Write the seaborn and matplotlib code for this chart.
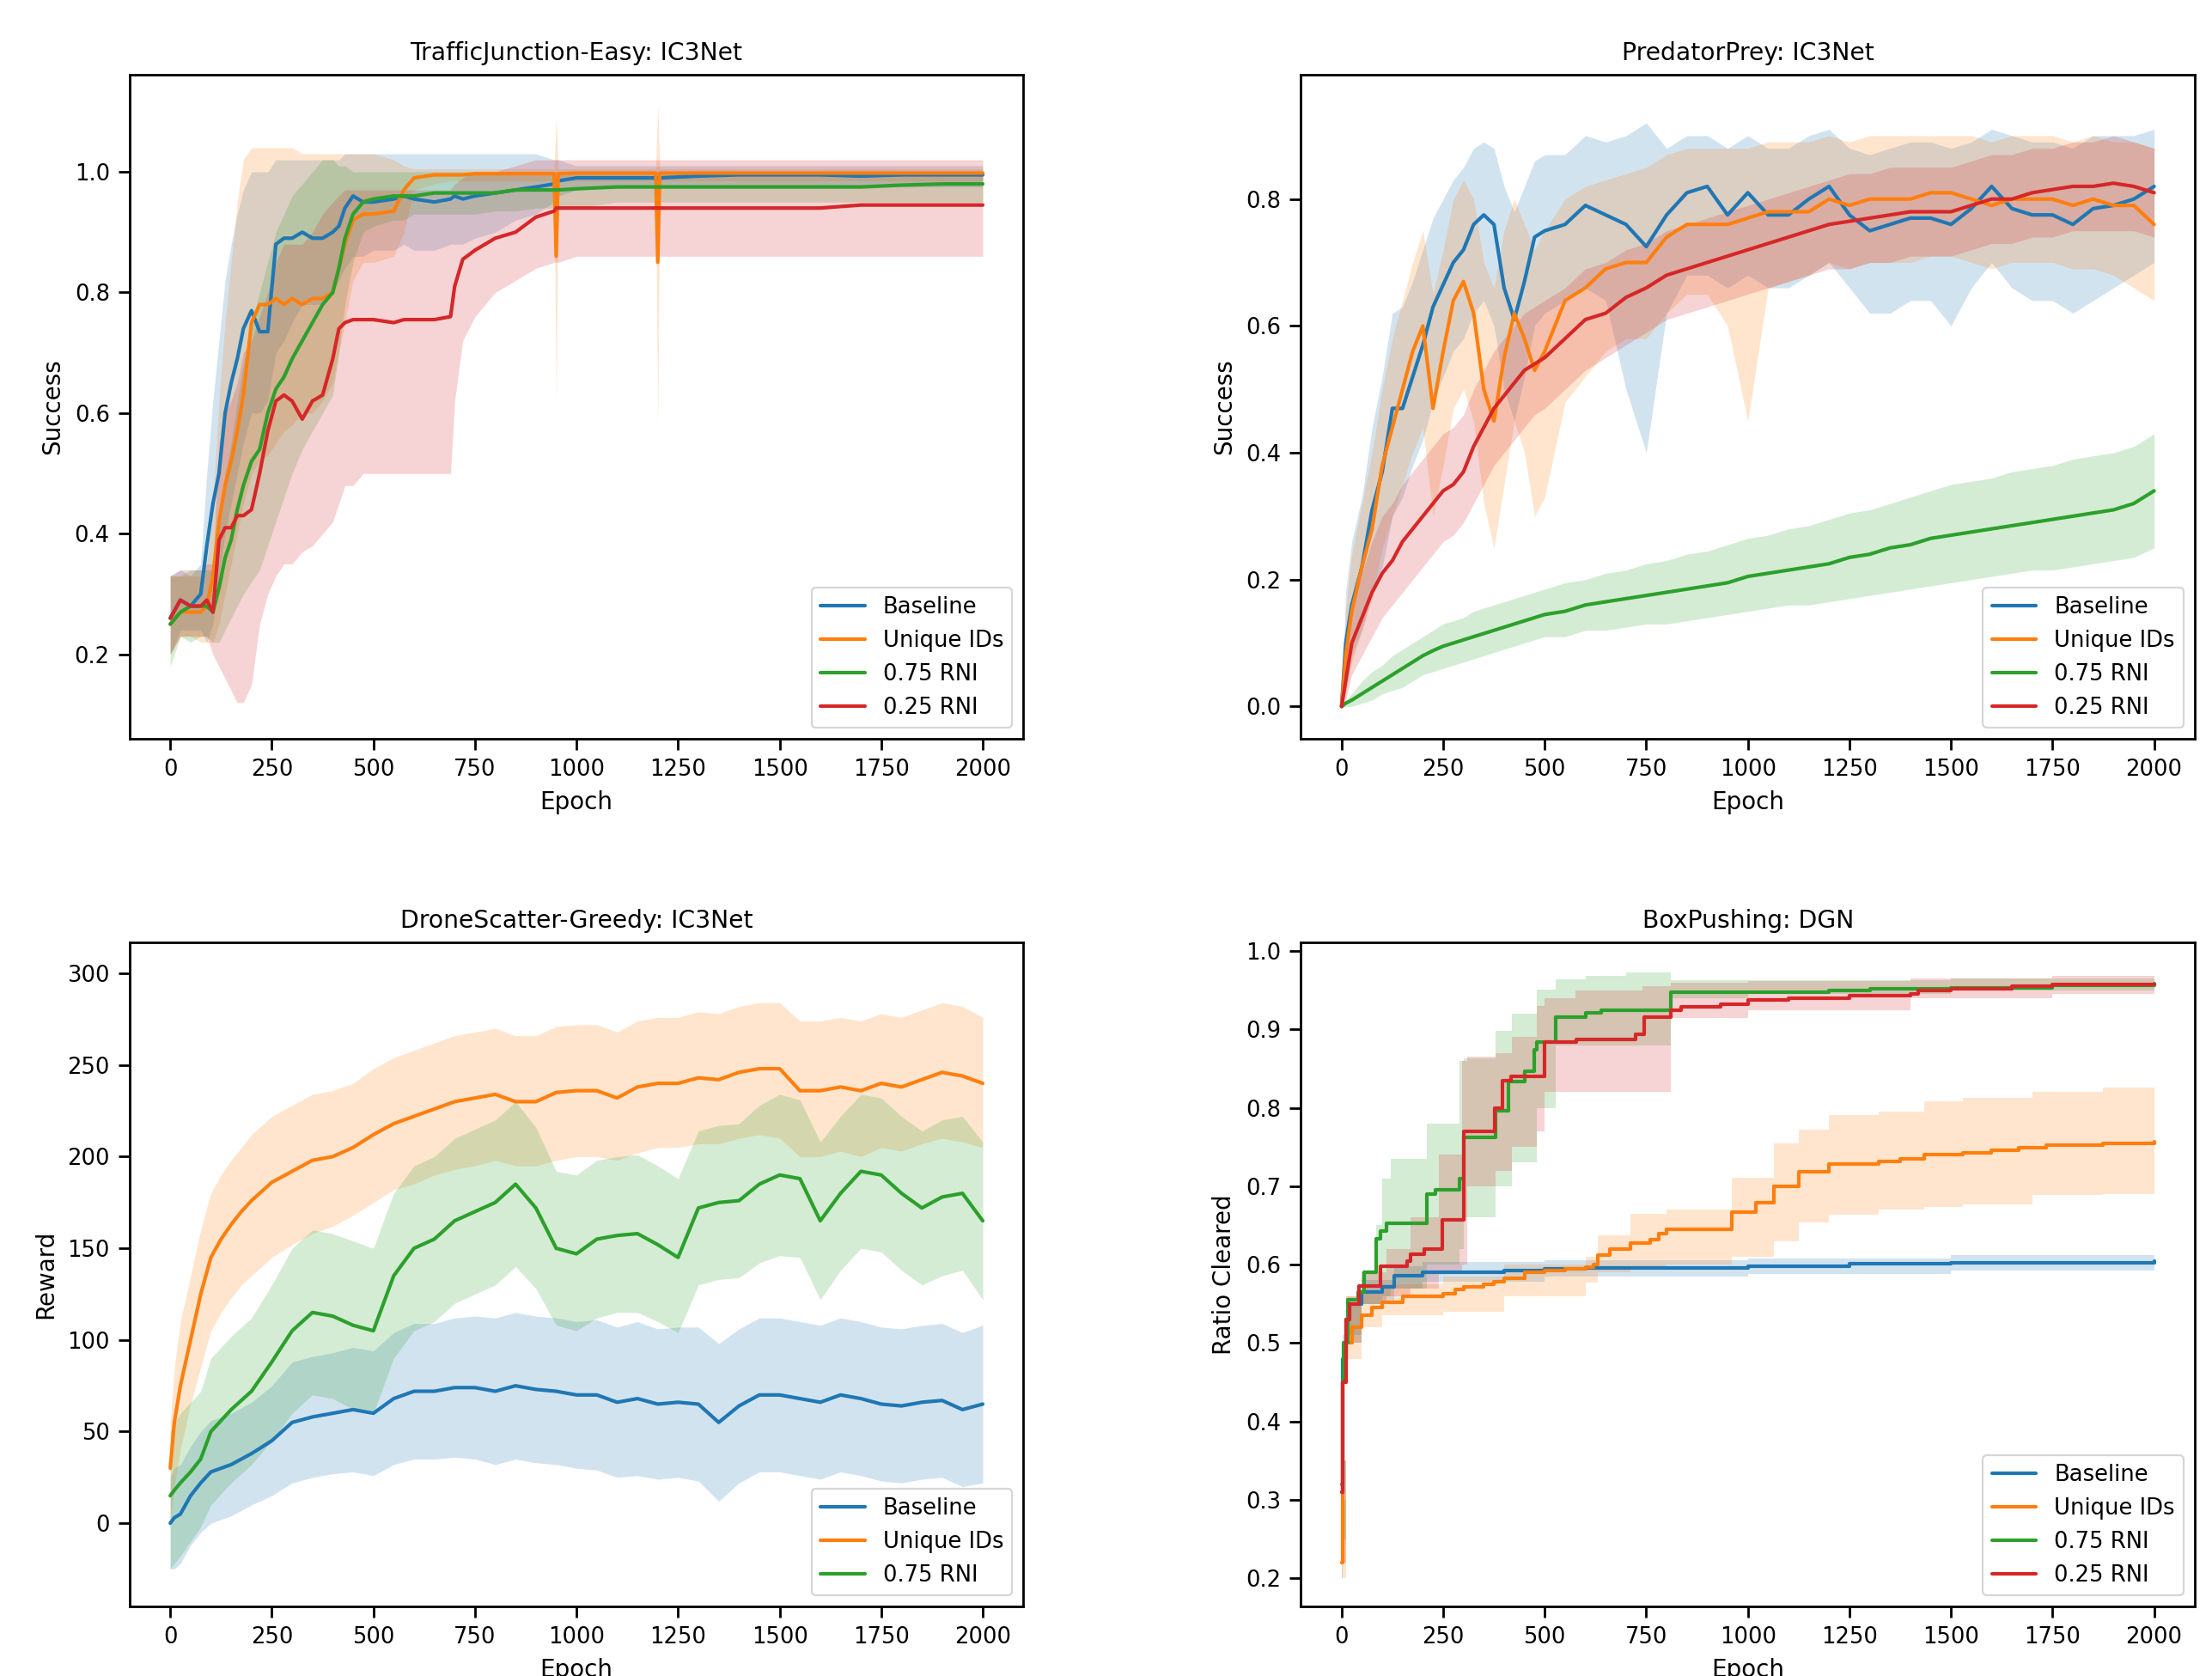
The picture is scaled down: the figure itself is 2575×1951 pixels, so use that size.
import numpy as np
import pandas as pd
import matplotlib
matplotlib.use("Agg")
import matplotlib.pyplot as plt
import seaborn as sns

# ---------------- data ----------------
names4 = ["Baseline", "Unique IDs", "0.75 RNI", "0.25 RNI"]
xticks = [0, 250, 500, 750, 1000, 1250, 1500, 1750, 2000]

# TrafficJunction-Easy
x_tl = [0, 25, 50, 75, 90, 105, 120, 135, 150, 165,
        180, 200, 220, 240, 260, 280, 300, 325, 350, 375,
        400, 415, 430, 450, 475, 500, 550, 575, 600, 650,
        690, 700, 720, 750, 800, 850, 900, 945, 950, 955,
        1000, 1100, 1195, 1200, 1205, 1300, 1400, 1500, 1600, 1700,
        1800, 1900, 2000]
tl_base = [0.26, 0.29, 0.28, 0.30, 0.38, 0.45, 0.50, 0.60, 0.65, 0.69,
           0.74, 0.77, 0.735, 0.735, 0.88, 0.89, 0.89, 0.90, 0.89, 0.89,
           0.90, 0.91, 0.94, 0.96, 0.95, 0.95, 0.955, 0.96, 0.955, 0.95,
           0.955, 0.96, 0.955, 0.96, 0.965, 0.97, 0.975, 0.98, 0.985, 0.985,
           0.99, 0.99, 0.99, 0.99, 0.99, 0.993, 0.995, 0.995, 0.995, 0.993,
           0.995, 0.995, 0.995]
tl_uid = [0.25, 0.27, 0.27, 0.27, 0.28, 0.33, 0.42, 0.48, 0.52, 0.57,
          0.63, 0.75, 0.78, 0.78, 0.79, 0.78, 0.79, 0.78, 0.79, 0.79,
          0.80, 0.84, 0.88, 0.92, 0.93, 0.93, 0.935, 0.97, 0.99, 0.995,
          0.995, 0.995, 0.995, 0.997, 0.997, 0.997, 0.997, 0.997, 0.86, 0.997,
          0.998, 0.998, 0.998, 0.85, 0.998, 0.998, 0.998, 0.998, 0.998, 0.998,
          0.998, 0.998, 0.998]
tl_rni75 = [0.25, 0.27, 0.28, 0.28, 0.28, 0.27, 0.31, 0.36, 0.39, 0.44,
            0.48, 0.52, 0.54, 0.60, 0.64, 0.66, 0.69, 0.72, 0.75, 0.78,
            0.80, 0.84, 0.89, 0.93, 0.95, 0.955, 0.96, 0.96, 0.96, 0.965,
            0.965, 0.965, 0.965, 0.965, 0.965, 0.97, 0.97, 0.97, 0.97, 0.97,
            0.972, 0.975, 0.975, 0.975, 0.975, 0.975, 0.975, 0.975, 0.975, 0.975,
            0.978, 0.98, 0.98]
tl_rni25 = [0.26, 0.29, 0.28, 0.28, 0.29, 0.27, 0.39, 0.41, 0.41, 0.43,
            0.43, 0.44, 0.50, 0.57, 0.62, 0.63, 0.62, 0.59, 0.62, 0.63,
            0.69, 0.74, 0.75, 0.755, 0.755, 0.755, 0.75, 0.755, 0.755, 0.755,
            0.76, 0.81, 0.855, 0.87, 0.89, 0.90, 0.925, 0.935, 0.94, 0.94,
            0.94, 0.94, 0.94, 0.94, 0.94, 0.94, 0.94, 0.94, 0.94, 0.945,
            0.945, 0.945, 0.945]
tl_base_lo = [0.20, 0.24, 0.24, 0.24, 0.22, 0.25, 0.33, 0.40, 0.45, 0.50,
              0.55, 0.60, 0.60, 0.62, 0.70, 0.72, 0.75, 0.78, 0.78, 0.78,
              0.80, 0.82, 0.84, 0.86, 0.86, 0.87, 0.87, 0.88, 0.87, 0.87,
              0.88, 0.88, 0.88, 0.89, 0.90, 0.92, 0.93, 0.95, 0.96, 0.96,
              0.97, 0.975, 0.975, 0.975, 0.975, 0.975, 0.975, 0.975, 0.975, 0.975,
              0.975, 0.975, 0.975]
tl_base_hi = [0.33, 0.34, 0.33, 0.35, 0.50, 0.62, 0.72, 0.82, 0.88, 0.93,
              0.97, 1.00, 1.00, 1.00, 1.02, 1.02, 1.02, 1.02, 1.02, 1.02,
              1.02, 1.02, 1.03, 1.03, 1.03, 1.03, 1.03, 1.03, 1.03, 1.03,
              1.03, 1.03, 1.03, 1.03, 1.03, 1.03, 1.03, 1.02, 1.02, 1.02,
              1.01, 1.01, 1.01, 1.01, 1.01, 1.01, 1.01, 1.01, 1.01, 1.01,
              1.01, 1.01, 1.01]
tl_uid_lo = [0.20, 0.23, 0.23, 0.22, 0.22, 0.22, 0.25, 0.30, 0.35, 0.40,
             0.45, 0.50, 0.52, 0.53, 0.55, 0.57, 0.58, 0.60, 0.60, 0.62,
             0.65, 0.70, 0.75, 0.82, 0.85, 0.85, 0.86, 0.90, 0.97, 0.98,
             0.985, 0.985, 0.985, 0.985, 0.985, 0.985, 0.985, 0.985, 0.62, 0.985,
             0.985, 0.985, 0.985, 0.58, 0.985, 0.985, 0.985, 0.985, 0.985, 0.985,
             0.985, 0.985, 0.985]
tl_uid_hi = [0.33, 0.33, 0.33, 0.33, 0.35, 0.45, 0.62, 0.75, 0.85, 0.95,
             1.02, 1.04, 1.04, 1.04, 1.04, 1.04, 1.04, 1.03, 1.03, 1.03,
             1.03, 1.03, 1.03, 1.03, 1.03, 1.03, 1.02, 1.01, 1.005, 1.005,
             1.005, 1.005, 1.005, 1.005, 1.005, 1.005, 1.005, 1.005, 1.09, 1.005,
             1.005, 1.005, 1.005, 1.11, 1.005, 1.005, 1.005, 1.005, 1.005, 1.005,
             1.005, 1.005, 1.005]
tl_rni75_lo = [0.18, 0.23, 0.22, 0.23, 0.23, 0.22, 0.22, 0.24, 0.26, 0.28,
               0.30, 0.32, 0.34, 0.38, 0.42, 0.46, 0.50, 0.54, 0.57, 0.60,
               0.63, 0.70, 0.78, 0.85, 0.90, 0.91, 0.92, 0.92, 0.93, 0.93,
               0.93, 0.93, 0.93, 0.93, 0.935, 0.935, 0.94, 0.94, 0.94, 0.94,
               0.94, 0.95, 0.95, 0.95, 0.95, 0.95, 0.95, 0.95, 0.95, 0.95,
               0.95, 0.95, 0.95]
tl_rni75_hi = [0.33, 0.33, 0.34, 0.34, 0.34, 0.34, 0.42, 0.50, 0.55, 0.62,
               0.68, 0.75, 0.80, 0.85, 0.90, 0.93, 0.96, 0.98, 1.00, 1.02,
               1.02, 1.01, 1.01, 1.00, 1.00, 1.00, 1.00, 1.00, 1.00, 1.00,
               1.00, 1.00, 1.00, 1.00, 1.00, 1.00, 1.00, 1.00, 1.00, 1.00,
               1.00, 1.00, 1.00, 1.00, 1.00, 1.00, 1.00, 1.00, 1.00, 1.00,
               1.00, 1.00, 1.00]
tl_rni25_lo = [0.20, 0.23, 0.23, 0.23, 0.23, 0.20, 0.18, 0.16, 0.14, 0.12,
               0.12, 0.15, 0.25, 0.30, 0.33, 0.35, 0.35, 0.37, 0.38, 0.40,
               0.42, 0.45, 0.48, 0.48, 0.50, 0.50, 0.50, 0.50, 0.50, 0.50,
               0.50, 0.62, 0.72, 0.76, 0.80, 0.82, 0.84, 0.85, 0.85, 0.85,
               0.86, 0.86, 0.86, 0.86, 0.86, 0.86, 0.86, 0.86, 0.86, 0.86,
               0.86, 0.86, 0.86]
tl_rni25_hi = [0.33, 0.34, 0.34, 0.34, 0.35, 0.35, 0.55, 0.60, 0.62, 0.65,
               0.70, 0.72, 0.76, 0.80, 0.85, 0.88, 0.88, 0.88, 0.90, 0.93,
               0.95, 0.96, 0.97, 0.97, 0.97, 0.97, 0.97, 0.97, 0.97, 0.97,
               0.97, 0.98, 0.99, 1.00, 1.00, 1.01, 1.02, 1.02, 1.02, 1.02,
               1.02, 1.02, 1.02, 1.02, 1.02, 1.02, 1.02, 1.02, 1.02, 1.02,
               1.02, 1.02, 1.02]

# PredatorPrey
x_tr = [0, 10, 25, 50, 75, 100, 125, 150, 175, 200,
        225, 250, 275, 300, 325, 350, 375, 400, 425, 450,
        475, 500, 550, 600, 650, 700, 750, 800, 850, 900,
        950, 1000, 1050, 1100, 1150, 1200, 1250, 1300, 1350, 1400,
        1450, 1500, 1550, 1600, 1650, 1700, 1750, 1800, 1850, 1900,
        1950, 2000]
tr_base = [0.0, 0.10, 0.16, 0.22, 0.31, 0.37, 0.47, 0.47, 0.52, 0.57,
           0.63, 0.665, 0.70, 0.72, 0.76, 0.775, 0.76, 0.66, 0.61, 0.67,
           0.74, 0.75, 0.76, 0.79, 0.775, 0.76, 0.725, 0.775, 0.81, 0.82,
           0.775, 0.81, 0.775, 0.775, 0.80, 0.82, 0.775, 0.75, 0.76, 0.77,
           0.77, 0.76, 0.785, 0.82, 0.785, 0.775, 0.775, 0.76, 0.785, 0.79,
           0.80, 0.82]
tr_uid = [0.0, 0.08, 0.15, 0.22, 0.28, 0.38, 0.44, 0.50, 0.56, 0.60,
          0.47, 0.56, 0.64, 0.67, 0.62, 0.50, 0.45, 0.55, 0.62, 0.58,
          0.53, 0.56, 0.64, 0.66, 0.69, 0.70, 0.70, 0.74, 0.76, 0.76,
          0.76, 0.77, 0.78, 0.78, 0.78, 0.80, 0.79, 0.80, 0.80, 0.80,
          0.81, 0.81, 0.80, 0.79, 0.80, 0.80, 0.80, 0.79, 0.80, 0.79,
          0.79, 0.76]
tr_rni75 = [0.0, 0.005, 0.01, 0.02, 0.03, 0.04, 0.05, 0.06, 0.07, 0.08,
            0.088, 0.095, 0.10, 0.105, 0.11, 0.115, 0.12, 0.125, 0.13, 0.135,
            0.14, 0.145, 0.15, 0.16, 0.165, 0.17, 0.175, 0.18, 0.185, 0.19,
            0.195, 0.205, 0.21, 0.215, 0.22, 0.225, 0.235, 0.24, 0.25, 0.255,
            0.265, 0.27, 0.275, 0.28, 0.285, 0.29, 0.295, 0.30, 0.305, 0.31,
            0.32, 0.34]
tr_rni25 = [0.0, 0.04, 0.10, 0.14, 0.18, 0.21, 0.23, 0.26, 0.28, 0.30,
            0.32, 0.34, 0.35, 0.37, 0.41, 0.44, 0.47, 0.49, 0.51, 0.53,
            0.54, 0.55, 0.58, 0.61, 0.62, 0.645, 0.66, 0.68, 0.69, 0.70,
            0.71, 0.72, 0.73, 0.74, 0.75, 0.76, 0.765, 0.77, 0.775, 0.78,
            0.78, 0.78, 0.79, 0.80, 0.80, 0.81, 0.815, 0.82, 0.82, 0.825,
            0.82, 0.81]
tr_base_lo = [0.0, 0.03, 0.08, 0.12, 0.18, 0.22, 0.30, 0.33, 0.38, 0.42,
              0.48, 0.52, 0.56, 0.58, 0.62, 0.64, 0.60, 0.50, 0.45, 0.52,
              0.60, 0.62, 0.64, 0.66, 0.64, 0.50, 0.40, 0.62, 0.68, 0.68,
              0.66, 0.68, 0.66, 0.66, 0.68, 0.70, 0.66, 0.62, 0.62, 0.64,
              0.64, 0.60, 0.66, 0.70, 0.66, 0.64, 0.64, 0.62, 0.64, 0.66,
              0.68, 0.70]
tr_base_hi = [0.0, 0.18, 0.26, 0.33, 0.44, 0.52, 0.62, 0.63, 0.67, 0.72,
              0.77, 0.80, 0.83, 0.85, 0.88, 0.89, 0.88, 0.82, 0.78, 0.82,
              0.86, 0.87, 0.87, 0.90, 0.89, 0.90, 0.92, 0.88, 0.90, 0.90,
              0.88, 0.90, 0.88, 0.88, 0.90, 0.91, 0.88, 0.87, 0.88, 0.89,
              0.89, 0.88, 0.89, 0.91, 0.90, 0.89, 0.89, 0.88, 0.90, 0.90,
              0.90, 0.91]
tr_uid_lo = [0.0, 0.02, 0.07, 0.12, 0.17, 0.25, 0.30, 0.35, 0.40, 0.44,
             0.30, 0.38, 0.47, 0.50, 0.45, 0.32, 0.25, 0.35, 0.45, 0.40,
             0.30, 0.33, 0.48, 0.52, 0.56, 0.58, 0.58, 0.62, 0.65, 0.65,
             0.60, 0.45, 0.66, 0.67, 0.68, 0.70, 0.69, 0.70, 0.70, 0.70,
             0.71, 0.71, 0.70, 0.69, 0.70, 0.70, 0.70, 0.69, 0.69, 0.68,
             0.66, 0.64]
tr_uid_hi = [0.0, 0.15, 0.24, 0.32, 0.40, 0.50, 0.58, 0.64, 0.70, 0.75,
             0.65, 0.72, 0.80, 0.83, 0.80, 0.70, 0.66, 0.75, 0.80, 0.76,
             0.72, 0.75, 0.80, 0.82, 0.83, 0.84, 0.85, 0.87, 0.88, 0.88,
             0.88, 0.88, 0.89, 0.89, 0.89, 0.90, 0.89, 0.90, 0.90, 0.90,
             0.90, 0.90, 0.90, 0.89, 0.90, 0.90, 0.90, 0.89, 0.90, 0.89,
             0.89, 0.88]
tr_rni75_lo = [0.0, 0.0, 0.0, 0.005, 0.01, 0.02, 0.025, 0.03, 0.04, 0.05,
               0.055, 0.06, 0.065, 0.07, 0.075, 0.08, 0.085, 0.09, 0.095, 0.10,
               0.105, 0.11, 0.11, 0.12, 0.12, 0.125, 0.13, 0.13, 0.135, 0.14,
               0.145, 0.15, 0.155, 0.16, 0.16, 0.165, 0.17, 0.175, 0.18, 0.185,
               0.19, 0.195, 0.20, 0.205, 0.21, 0.215, 0.215, 0.22, 0.225, 0.23,
               0.235, 0.25]
tr_rni75_hi = [0.0, 0.01, 0.02, 0.04, 0.055, 0.065, 0.08, 0.09, 0.10, 0.11,
               0.12, 0.13, 0.135, 0.14, 0.15, 0.155, 0.16, 0.165, 0.17, 0.175,
               0.18, 0.185, 0.195, 0.20, 0.21, 0.215, 0.225, 0.23, 0.24, 0.245,
               0.255, 0.265, 0.27, 0.28, 0.285, 0.295, 0.305, 0.31, 0.32, 0.33,
               0.34, 0.35, 0.355, 0.36, 0.37, 0.375, 0.38, 0.39, 0.395, 0.40,
               0.41, 0.43]
tr_rni25_lo = [0.0, 0.01, 0.05, 0.08, 0.11, 0.14, 0.16, 0.18, 0.20, 0.22,
               0.24, 0.26, 0.27, 0.29, 0.32, 0.35, 0.38, 0.40, 0.42, 0.44,
               0.46, 0.47, 0.50, 0.53, 0.55, 0.57, 0.59, 0.61, 0.62, 0.63,
               0.64, 0.65, 0.66, 0.67, 0.68, 0.69, 0.69, 0.70, 0.70, 0.71,
               0.71, 0.71, 0.72, 0.73, 0.73, 0.74, 0.74, 0.75, 0.75, 0.75,
               0.75, 0.74]
tr_rni25_hi = [0.0, 0.08, 0.16, 0.21, 0.26, 0.30, 0.32, 0.35, 0.37, 0.39,
               0.41, 0.43, 0.44, 0.46, 0.50, 0.53, 0.56, 0.58, 0.60, 0.62,
               0.63, 0.64, 0.66, 0.69, 0.70, 0.72, 0.73, 0.75, 0.76, 0.77,
               0.78, 0.79, 0.80, 0.81, 0.82, 0.83, 0.84, 0.84, 0.85, 0.85,
               0.85, 0.85, 0.86, 0.87, 0.87, 0.88, 0.88, 0.89, 0.89, 0.90,
               0.89, 0.88]

# DroneScatter-Greedy
x_bl = [0, 10, 25, 50, 75, 100, 125, 150, 175, 200,
        250, 300, 350, 400, 450, 500, 550, 600, 650, 700,
        750, 800, 850, 900, 950, 1000, 1050, 1100, 1150, 1200,
        1250, 1300, 1350, 1400, 1450, 1500, 1550, 1600, 1650, 1700,
        1750, 1800, 1850, 1900, 1950, 2000]
bl_base = [0, 3, 5, 15, 22, 28, 30, 32, 35, 38,
           45, 55, 58, 60, 62, 60, 68, 72, 72, 74,
           74, 72, 75, 73, 72, 70, 70, 66, 68, 65,
           66, 65, 55, 64, 70, 70, 68, 66, 70, 68,
           65, 64, 66, 67, 62, 65]
bl_uid = [30, 55, 75, 100, 125, 145, 155, 163, 170, 176,
          186, 192, 198, 200, 205, 212, 218, 222, 226, 230,
          232, 234, 230, 230, 235, 236, 236, 232, 238, 240,
          240, 243, 242, 246, 248, 248, 236, 236, 238, 236,
          240, 238, 242, 246, 244, 240]
bl_rni75 = [15, 18, 22, 28, 35, 50, 56, 62, 67, 72,
            88, 105, 115, 113, 108, 105, 135, 150, 155, 165,
            170, 175, 185, 172, 150, 147, 155, 157, 158, 152,
            145, 172, 175, 176, 185, 190, 188, 165, 180, 192,
            190, 180, 172, 178, 180, 165]
bl_base_lo = [-25, -25, -22, -12, -5, 0, 2, 4, 7, 10,
              15, 22, 25, 27, 28, 26, 32, 35, 35, 36,
              35, 32, 35, 33, 32, 30, 29, 25, 26, 24,
              25, 23, 12, 22, 28, 28, 26, 24, 28, 26,
              23, 22, 24, 25, 20, 22]
bl_base_hi = [25, 30, 32, 42, 50, 56, 58, 60, 63, 66,
              75, 88, 91, 93, 96, 94, 104, 109, 109, 112,
              113, 112, 115, 113, 112, 110, 111, 107, 110, 106,
              107, 107, 98, 106, 112, 112, 110, 108, 112, 110,
              107, 106, 108, 109, 104, 108]
bl_uid_lo = [0, 20, 40, 65, 85, 105, 115, 123, 130, 135,
             145, 152, 158, 162, 168, 175, 182, 185, 190, 193,
             195, 198, 195, 195, 198, 200, 200, 198, 202, 205,
             205, 207, 207, 210, 212, 210, 200, 200, 203, 200,
             205, 203, 207, 210, 208, 205]
bl_uid_hi = [55, 85, 110, 135, 160, 180, 190, 198, 205, 212,
             222, 228, 234, 236, 240, 248, 254, 258, 262, 266,
             268, 270, 266, 266, 271, 272, 272, 268, 274, 276,
             276, 279, 278, 282, 284, 284, 274, 274, 276, 274,
             278, 276, 280, 284, 282, 276]
bl_rni75_lo = [-25, -22, -18, -10, -2, 10, 16, 22, 27, 32,
               45, 60, 70, 68, 62, 60, 90, 105, 110, 120,
               125, 130, 140, 128, 108, 105, 112, 115, 115, 110,
               104, 130, 133, 134, 142, 146, 145, 122, 138, 150,
               148, 138, 130, 135, 138, 122]
bl_rni75_hi = [50, 55, 60, 66, 72, 90, 96, 102, 107, 112,
               130, 150, 160, 158, 154, 150, 180, 195, 200, 210,
               215, 220, 230, 216, 192, 190, 198, 200, 201, 195,
               188, 214, 217, 218, 228, 234, 231, 208, 222, 234,
               232, 222, 214, 220, 222, 208]

# BoxPushing (step curves)
br_base_x = [0, 3, 10, 20, 50, 100, 130, 200, 400, 500, 600, 1000, 1250, 1500, 1750, 2000]
br_base = [0.31, 0.48, 0.53, 0.55, 0.565, 0.572, 0.586, 0.59, 0.592, 0.595, 0.596, 0.598, 0.601, 0.602, 0.602, 0.604]
br_uid_x = [0, 3, 10, 25, 50, 75, 100, 150, 250, 280,
            300, 350, 375, 400, 450, 500, 550, 600, 620, 630,
            660, 710, 760, 780, 800, 960, 1020, 1065, 1125, 1200,
            1323, 1375, 1435, 1530, 1598, 1667, 1735, 1873, 2000]
br_uid = [0.22, 0.45, 0.50, 0.52, 0.535, 0.545, 0.552, 0.56, 0.563, 0.568,
          0.572, 0.575, 0.578, 0.583, 0.59, 0.593, 0.595, 0.597, 0.60, 0.612,
          0.62, 0.628, 0.632, 0.64, 0.645, 0.667, 0.679, 0.70, 0.719, 0.728,
          0.732, 0.735, 0.74, 0.743, 0.746, 0.749, 0.752, 0.755, 0.757]
br_rni75_x = [0, 2, 5, 15, 40, 55, 85, 95, 110, 210,
              230, 290, 300, 380, 410, 450, 475, 480, 528, 600,
              640, 811, 1000, 1200, 1300, 1500, 1750, 2000]
br_rni75 = [0.32, 0.45, 0.50, 0.555, 0.565, 0.59, 0.633, 0.643, 0.653, 0.69,
            0.696, 0.71, 0.762, 0.796, 0.833, 0.847, 0.874, 0.884, 0.916, 0.921,
            0.925, 0.947, 0.948, 0.95, 0.952, 0.953, 0.956, 0.958]
br_rni25_x = [0, 3, 10, 20, 42, 95, 162, 169, 204, 247,
              300, 377, 395, 416, 500, 578, 723, 744, 811, 836,
              934, 1000, 1100, 1250, 1400, 1420, 1500, 1650, 1750, 2000]
br_rni25 = [0.31, 0.45, 0.53, 0.55, 0.573, 0.598, 0.605, 0.613, 0.62, 0.657,
            0.77, 0.80, 0.835, 0.84, 0.884, 0.887, 0.894, 0.916, 0.925, 0.929,
            0.932, 0.938, 0.94, 0.943, 0.945, 0.95, 0.952, 0.955, 0.957, 0.957]
br_base_band_x = [0, 3, 10, 50, 130, 200, 500, 1000, 1500, 2000]
br_base_lo = [0.20, 0.45, 0.51, 0.55, 0.57, 0.578, 0.585, 0.588, 0.592, 0.595]
br_base_hi = [0.32, 0.51, 0.55, 0.58, 0.598, 0.603, 0.606, 0.608, 0.612, 0.614]
br_uid_band_x = [0, 10, 50, 100, 250, 400, 600, 630, 710, 800,
                 960, 1065, 1125, 1200, 1323, 1435, 1530, 1700, 1873, 2000]
br_uid_lo = [0.20, 0.48, 0.52, 0.535, 0.54, 0.56, 0.577, 0.59, 0.595, 0.60,
             0.61, 0.63, 0.654, 0.664, 0.67, 0.674, 0.677, 0.689, 0.69, 0.69]
br_uid_hi = [0.30, 0.56, 0.565, 0.575, 0.585, 0.60, 0.61, 0.637, 0.665, 0.67,
             0.711, 0.755, 0.772, 0.791, 0.795, 0.808, 0.813, 0.82, 0.826, 0.826]
br_rni75_band_x = [0, 10, 50, 85, 100, 120, 210, 290, 300, 380,
                   420, 480, 528, 600, 700, 811, 1000, 1500, 2000]
br_rni75_lo = [0.25, 0.50, 0.55, 0.55, 0.56, 0.57, 0.60, 0.62, 0.66, 0.70,
               0.73, 0.80, 0.88, 0.88, 0.88, 0.94, 0.945, 0.95, 0.953]
br_rni75_hi = [0.35, 0.55, 0.59, 0.65, 0.71, 0.735, 0.78, 0.86, 0.863, 0.898,
               0.92, 0.951, 0.964, 0.968, 0.973, 0.963, 0.963, 0.965, 0.965]
br_rni25_band_x = [0, 10, 50, 110, 170, 240, 296, 310, 380, 420,
                   480, 500, 575, 740, 811, 1000, 1400, 1750, 2000]
br_rni25_lo = [0.22, 0.50, 0.55, 0.56, 0.57, 0.59, 0.60, 0.70, 0.72, 0.75,
               0.77, 0.82, 0.82, 0.82, 0.915, 0.925, 0.94, 0.945, 0.945]
br_rni25_hi = [0.35, 0.56, 0.59, 0.62, 0.66, 0.74, 0.86, 0.865, 0.87, 0.89,
               0.93, 0.94, 0.95, 0.955, 0.96, 0.962, 0.965, 0.968, 0.968]

# ---------------- style ----------------
sns.set_theme(context="paper", style="ticks", palette="tab10",
              rc={"axes.edgecolor": "black", "text.color": "black",
                  "axes.labelcolor": "black", "xtick.color": "black",
                  "ytick.color": "black",
                  "axes.titlesize": 10.2, "axes.labelsize": 10.0,
                  "xtick.labelsize": 9.3, "ytick.labelsize": 9.3,
                  "legend.fontsize": 9.3})
plt.rcParams["font.family"] = ["DejaVu Sans"]
colors = sns.color_palette("tab10")[:4]

fig, axes = plt.subplots(2, 2, figsize=(12.875, 9.755), dpi=200)
fig.subplots_adjust(left=0.0586, right=0.9922, bottom=0.0415, top=0.9554,
                    wspace=0.3106, hspace=0.3066)

LW = 1.5


def draw(ax, x, y, lo, hi, color, label, bx=None, step=False):
    df = pd.DataFrame({"Epoch": x, "val": y})
    kw = {"drawstyle": "steps-post"} if step else {}
    sns.lineplot(data=df, x="Epoch", y="val", ax=ax, color=color,
                 label=label, linewidth=LW, **kw)
    bxv = x if bx is None else bx
    ax.fill_between(bxv, lo, hi, color=color, alpha=0.2, linewidth=0,
                    step="post" if step else None)


def finish(ax, title, ylabel, ylim):
    ax.set_title(title)
    ax.set_xlabel("Epoch")
    ax.set_ylabel(ylabel)
    ax.set_xticks(xticks)
    ax.set_xlim(-100, 2100)
    ax.set_ylim(*ylim)
    ax.legend(loc="lower right")
    for s in ax.spines.values():
        s.set_visible(True)


ax = axes[0, 0]
for y, lo, hi, c, n in zip([tl_base, tl_uid, tl_rni75, tl_rni25],
                           [tl_base_lo, tl_uid_lo, tl_rni75_lo, tl_rni25_lo],
                           [tl_base_hi, tl_uid_hi, tl_rni75_hi, tl_rni25_hi],
                           colors, names4):
    draw(ax, x_tl, y, lo, hi, c, n)
finish(ax, "TrafficJunction-Easy: IC3Net", "Success", (0.06, 1.161))

ax = axes[0, 1]
for y, lo, hi, c, n in zip([tr_base, tr_uid, tr_rni75, tr_rni25],
                           [tr_base_lo, tr_uid_lo, tr_rni75_lo, tr_rni25_lo],
                           [tr_base_hi, tr_uid_hi, tr_rni75_hi, tr_rni25_hi],
                           colors, names4):
    draw(ax, x_tr, y, lo, hi, c, n)
finish(ax, "PredatorPrey: IC3Net", "Success", (-0.051, 0.996))

ax = axes[1, 0]
for y, lo, hi, c, n in zip([bl_base, bl_uid, bl_rni75],
                           [bl_base_lo, bl_uid_lo, bl_rni75_lo],
                           [bl_base_hi, bl_uid_hi, bl_rni75_hi],
                           colors[:3], names4[:3]):
    draw(ax, x_bl, y, lo, hi, c, n)
finish(ax, "DroneScatter-Greedy: IC3Net", "Reward", (-45.4, 316.9))

ax = axes[1, 1]
for x, y, bx, lo, hi, c, n in zip(
        [br_base_x, br_uid_x, br_rni75_x, br_rni25_x],
        [br_base, br_uid, br_rni75, br_rni25],
        [br_base_band_x, br_uid_band_x, br_rni75_band_x, br_rni25_band_x],
        [br_base_lo, br_uid_lo, br_rni75_lo, br_rni25_lo],
        [br_base_hi, br_uid_hi, br_rni75_hi, br_rni25_hi],
        colors, names4):
    draw(ax, x, y, lo, hi, c, n, bx=bx, step=True)
finish(ax, "BoxPushing: DGN", "Ratio Cleared", (0.164, 1.011))

fig.savefig("out.png", dpi=200)
